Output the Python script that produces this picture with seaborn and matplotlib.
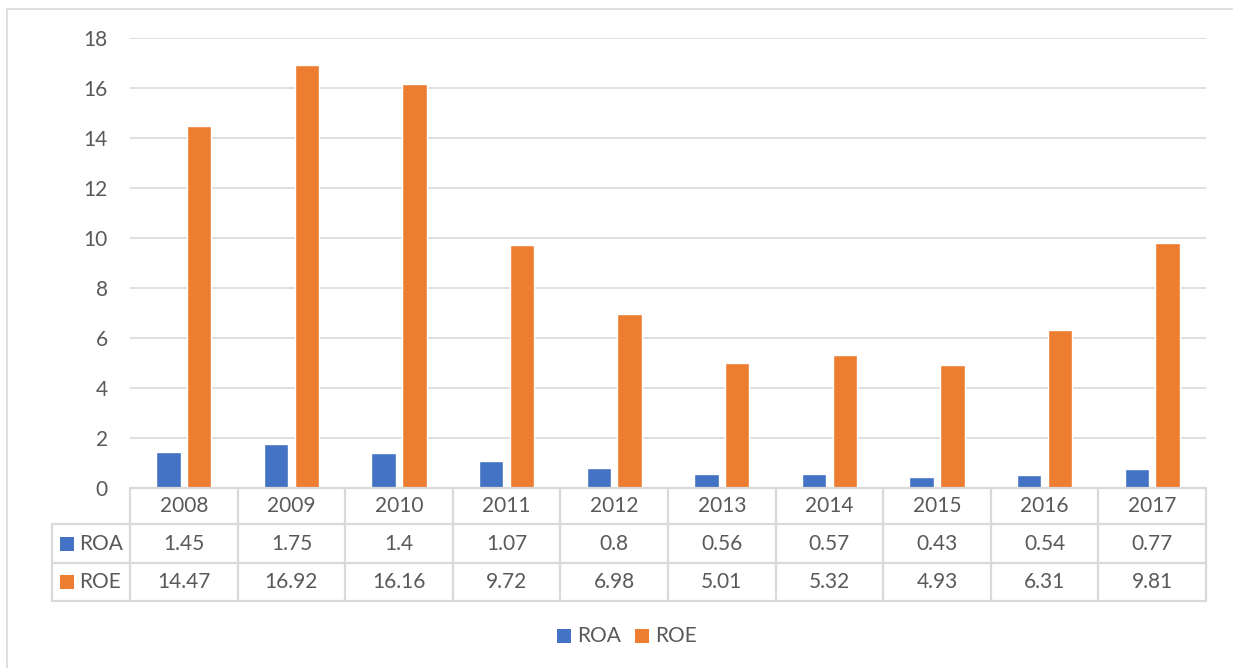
import matplotlib
matplotlib.use("Agg")
import matplotlib.pyplot as plt
import matplotlib.transforms as mtransforms
from matplotlib.patches import Rectangle
from matplotlib.lines import Line2D
import pandas as pd
import seaborn as sns

years = ["2008", "2009", "2010", "2011", "2012", "2013", "2014", "2015", "2016", "2017"]
roa = [1.45, 1.75, 1.4, 1.07, 0.8, 0.56, 0.57, 0.43, 0.54, 0.77]
roe = [14.47, 16.92, 16.16, 9.72, 6.98, 5.01, 5.32, 4.93, 6.31, 9.81]
series_names = ["ROA", "ROE"]
colors = {"ROA": "#4472C4", "ROE": "#ED7D31"}
y_ticks = [0, 2, 4, 6, 8, 10, 12, 14, 16, 18]

W, H = 1233, 668
TEXT = "#595959"
GRID = "#d9d9d9"
FONT = "Lato"
FS = 15

sns.set_theme(style="white")
plt.rcParams["font.family"] = [FONT, "DejaVu Sans"]

df = pd.DataFrame({
    "Year": years * 2,
    "Series": ["ROA"] * len(years) + ["ROE"] * len(years),
    "Value": roa + roe,
})

fig = plt.figure(figsize=(W / 100, H / 100), dpi=100)

# plot area in pixel coordinates
x0, x1 = 130, 1206
y_top, y_bot = 38, 488
ax = fig.add_axes([x0 / W, 1 - y_bot / H, (x1 - x0) / W, (y_bot - y_top) / H])

sns.barplot(data=df, x="Year", y="Value", hue="Series", hue_order=series_names,
            palette=colors, width=0.574, gap=0.21, saturation=1,
            legend=False, ax=ax, zorder=3)

ax.set_ylim(0, 18)
ax.set_xlim(-0.5, len(years) - 0.5)
ax.set_yticks(y_ticks)
ax.set_yticklabels([str(t) for t in y_ticks], color=TEXT, fontsize=FS)
ax.tick_params(axis="y", length=0, pad=16)
ax.set_xticks([])
ax.set_xlabel("")
ax.set_ylabel("")
for s in ax.spines.values():
    s.set_visible(False)
ax.yaxis.grid(True, color=GRID, linewidth=1.2, zorder=0)
ax.set_axisbelow(True)

# data table under the plot: x follows the category axis, y in axes fraction
blend = mtransforms.blended_transform_factory(ax.transData, ax.transAxes)
ah = y_bot - y_top


def ay(px):
    return (y_bot - px) / ah


def dx(px):
    return -0.5 + (px - x0) / ((x1 - x0) / len(years))


row_lines = [488, 524, 563, 601]
left_px = 52
lw = 1.6
line_kw = dict(color=GRID, linewidth=lw, transform=blend, clip_on=False, zorder=4)

# horizontal rules
ax.add_line(Line2D([-0.5, len(years) - 0.5], [ay(row_lines[0])] * 2, **line_kw))
for r in row_lines[1:]:
    ax.add_line(Line2D([dx(left_px), len(years) - 0.5], [ay(r)] * 2, **line_kw))
# vertical rules
for k in range(len(years) + 1):
    ax.add_line(Line2D([k - 0.5] * 2, [ay(row_lines[0]), ay(row_lines[-1])], **line_kw))
ax.add_line(Line2D([dx(left_px)] * 2, [ay(row_lines[1]), ay(row_lines[-1])], **line_kw))

# header row with the years
for k, yr in enumerate(years):
    ax.text(k, ay(506), yr, ha="center", va="center", fontsize=FS, color=TEXT,
            transform=blend, clip_on=False)

rows = {"ROA": roa, "ROE": roe}
row_centers = {"ROA": 543.5, "ROE": 582}
for name in series_names:
    yc = ay(row_centers[name])
    for k, v in enumerate(rows[name]):
        ax.text(k, yc, f"{v:g}", ha="center", va="center", fontsize=FS,
                color=TEXT, transform=blend, clip_on=False)
    # legend key in the row header
    ax.add_patch(Rectangle((dx(60), yc - 7 / ah), dx(74) - dx(60), 14 / ah,
                           facecolor=colors[name], edgecolor="none",
                           transform=blend, clip_on=False))
    ax.text(dx(79), yc, name, ha="left", va="center", fontsize=FS, color=TEXT,
            transform=blend, clip_on=False)

# legend at the bottom
leg_y = 636
for name, sq_x in zip(series_names, [557, 635]):
    fig.patches.append(Rectangle((sq_x / W, 1 - (leg_y + 7) / H), 14 / W, 14 / H,
                                 facecolor=colors[name], edgecolor="none",
                                 transform=fig.transFigure, figure=fig))
    fig.text((sq_x + 20) / W, 1 - leg_y / H, name, ha="left", va="center",
             fontsize=FS, color=TEXT)

# chart frame
fig.patches.append(Rectangle((7 / W, -0.1), 1.2, 1.1 - 9 / H, facecolor="none",
                             edgecolor=GRID, linewidth=1.2,
                             transform=fig.transFigure, figure=fig, zorder=0))

fig.savefig("out.png", dpi=100, facecolor="white")
